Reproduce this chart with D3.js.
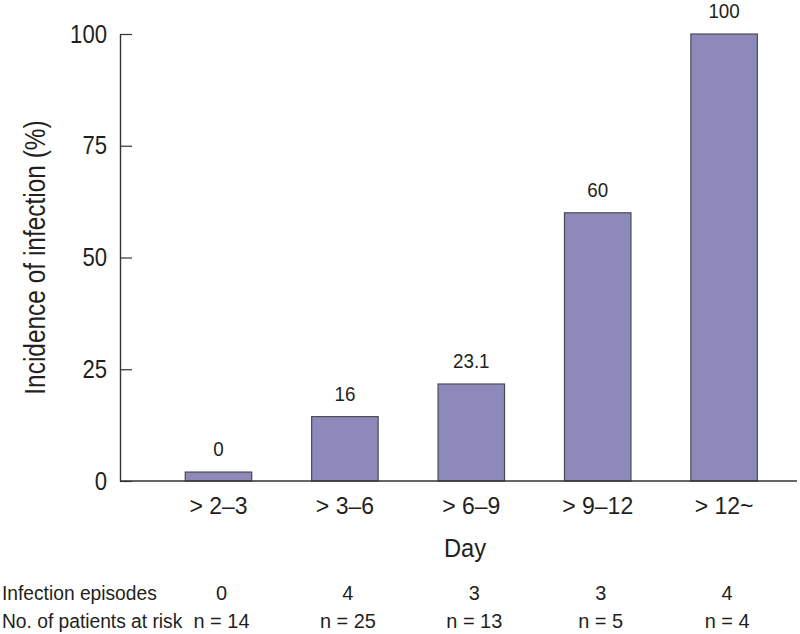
<!DOCTYPE html>
<html>
<head>
<meta charset="utf-8">
<script src="https://cdn.jsdelivr.net/npm/d3@7"></script>
<style>
  html, body { margin: 0; padding: 0; background: #fff; }
  svg { display: block; }
  text { font-family: "Liberation Sans", Arial, sans-serif; fill: #231f20; }
</style>
</head>
<body>
<svg id="chart" width="800" height="634"></svg>
<script>
// ---- data ----
const categories = ["> 2\u20133", "> 3\u20136", "> 6\u20139", "> 9\u201312", "> 12~"];
const barValues = [2, 14.4, 21.7, 60, 100];          // drawn bar heights (%)
const barLabels = ["0", "16", "23.1", "60", "100"];   // printed values
const yTicks = [0, 25, 50, 75, 100];
const rowTitles = ["Infection episodes", "No. of patients at risk"];
const episodes = ["0", "4", "3", "3", "4"];
const atRisk = ["n = 14", "n = 25", "n = 13", "n = 5", "n = 4"];

// horizontal squeeze to imitate a condensed face (keeps anchor in place)
function condense(sel, s) {
  sel.each(function () {
    const t = d3.select(this);
    const x = +t.attr("x") || 0;
    const prev = t.attr("transform") || "";
    t.attr("transform", `${prev} translate(${x},0) scale(${s},1) translate(${-x},0)`);
  });
}

// ---- layout ----
const svg = d3.select("#chart");
const axisX0 = 120, axisX1 = 797;
const y = d3.scaleLinear().domain([0, 100]).range([481, 34]);
const x = d3.scaleBand().domain(categories).range([155.3, 787.3])
  .paddingInner(0.474).paddingOuter(0.237);

const axisColor = "#333";

// y axis
const gy = svg.append("g").attr("transform", `translate(${axisX0},0)`)
  .call(d3.axisLeft(y).tickValues(yTicks).tickSize(-12).tickSizeOuter(0).tickPadding(13));
gy.select(".domain").attr("stroke", axisColor).attr("stroke-width", 1.4);
gy.selectAll(".tick line").attr("stroke", axisColor).attr("stroke-width", 1.2);
gy.selectAll(".tick text").style("font-size", "25px").attr("fill", "#231f20")
  .call(condense, 0.885);

// bars
svg.append("g").selectAll("rect").data(barValues).join("rect")
  .attr("x", (d, i) => x(categories[i]))
  .attr("width", x.bandwidth())
  .attr("y", d => y(d))
  .attr("height", d => y(0) - y(d))
  .attr("fill", "#8d8abb")
  .attr("stroke", "#4a4a55")
  .attr("stroke-width", 1.2);

// x axis line
svg.append("line")
  .attr("x1", axisX0).attr("x2", axisX1)
  .attr("y1", y(0)).attr("y2", y(0))
  .attr("stroke", axisColor).attr("stroke-width", 1.4);

// category labels
const gx = svg.append("g").attr("transform", `translate(0,${y(0)})`)
  .call(d3.axisBottom(x).tickSize(0).tickPadding(17));
gx.select(".domain").remove();
gx.selectAll(".tick text").style("font-size", "23px").attr("fill", "#231f20");

// value labels
svg.append("g").selectAll("text").data(barValues).join("text")
  .attr("x", (d, i) => x(categories[i]) + x.bandwidth() / 2)
  .attr("y", d => y(d) - 16)
  .attr("text-anchor", "middle")
  .style("font-size", "20px")
  .text((d, i) => barLabels[i])
  .call(condense, 0.94);

// y title
svg.append("text")
  .attr("transform", `translate(45,${(y(100) + y(0)) / 2 + 0}) rotate(-90)`)
  .attr("text-anchor", "middle")
  .style("font-size", "30px")
  .text("Incidence of infection (%)")
  .call(condense, 0.815);

// x title
svg.append("text")
  .attr("x", 465).attr("y", 557)
  .attr("text-anchor", "middle")
  .style("font-size", "25px")
  .text("Day")
  .call(condense, 0.95);

// table rows
const rows = [episodes, atRisk];
const rowY = [600, 628];
rows.forEach((vals, r) => {
  svg.append("text").attr("x", 2).attr("y", rowY[r])
    .style("font-size", "21px").text(rowTitles[r])
    .call(condense, 0.915);
  svg.append("g").selectAll("text").data(vals).join("text")
    .attr("x", (d, i) => x(categories[i]) + x.bandwidth() / 2 + 3)
    .attr("y", rowY[r])
    .attr("text-anchor", "middle")
    .style("font-size", "21px")
    .text(d => d)
    .call(condense, 0.95);
});
</script>
</body>
</html>
